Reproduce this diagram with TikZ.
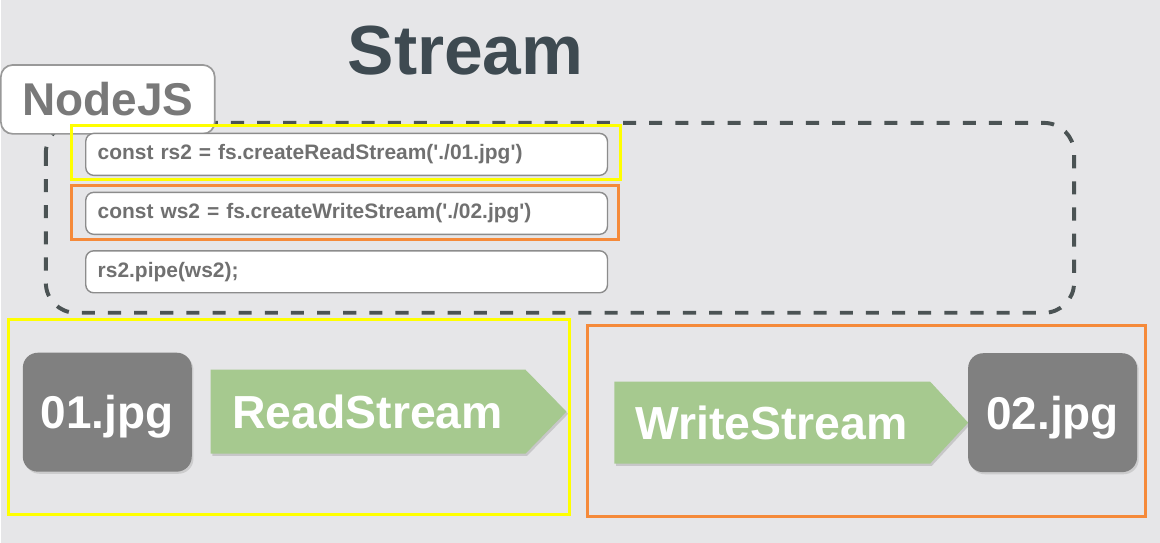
\documentclass[tikz,border=0pt]{standalone}
\usepackage{fontspec}
\setmainfont{Liberation Sans}
\usetikzlibrary{shadows}
\definecolor{bggray}{RGB}{230,230,232}
\definecolor{titlecol}{RGB}{62,74,81}
\definecolor{dashcol}{RGB}{75,83,84}
\definecolor{codetxt}{RGB}{112,112,112}
\definecolor{filegray}{RGB}{128,128,128}
\definecolor{streamgreen}{RGB}{166,201,143}
\definecolor{markyellow}{RGB}{255,255,0}
\definecolor{markorange}{RGB}{245,138,58}

\begin{document}
\begin{tikzpicture}[x=0.025cm,y=-0.025cm,
  codebox/.style={draw=gray!90,fill=white,rounded corners=0.2cm,line width=1pt,
    text width=12.45cm,inner xsep=0.3cm,minimum height=1.05cm,align=left,
    font=\fontsize{14.9}{16}\selectfont\bfseries,text=codetxt},
  filebox/.style={fill=filegray,rounded corners=0.375cm,minimum width=4.225cm,
    minimum height=2.975cm,text=white,font=\fontsize{32.7}{33}\selectfont\bfseries,
    text height=23.4pt,text depth=0pt,
    drop shadow={shadow xshift=1.2pt,shadow yshift=-1.5pt,opacity=0.25}},
  streamtext/.style={text=white,font=\fontsize{33}{34}\selectfont\bfseries,
    text height=23.6pt,text depth=0pt,inner sep=0pt},
  arrowshade/.style={fill=streamgreen,
    drop shadow={shadow xshift=1.2pt,shadow yshift=-1.5pt,opacity=0.3}},
  highlight/.style={line width=2.1pt}]
  % background
  \fill[bggray] (0,0) rectangle (1160,543);
  % title
  \node[anchor=base,text=titlecol,font=\fontsize{49.5}{50}\selectfont\bfseries] (title) at (465,75) {Stream};
  % nodejs process
  \draw[dashcol,line width=2.8pt,dash pattern=on 9.3pt off 9.3pt,rounded corners=0.75cm] (45,123) rectangle (1074,313);
  \node[draw=gray!80,fill=white,rounded corners=0.3cm,line width=1.2pt,minimum width=5.35cm,minimum height=1.725cm,
    text=gray!95!black,font=\fontsize{32.7}{33}\selectfont\bfseries,text height=23.4pt,text depth=0pt] (nodejs) at (107,99.5) {NodeJS};
  \node[codebox] (readline) at (346,154.5) {const rs2 = fs.createReadStream(\textquotesingle./01.jpg\textquotesingle)};
  \node[codebox] (writeline) at (346,213.5) {const ws2 = fs.createWriteStream(\textquotesingle./02.jpg\textquotesingle)};
  \node[codebox] (pipeline) at (346,272) {rs2.pipe(ws2);};
  \draw[highlight,markyellow] (71,126) rectangle (620,180);
  \draw[highlight,markorange] (71,186) rectangle (618,240);
  % read side
  \node[filebox] (srcfile) at (106.5,412.5) {01.jpg};
  \fill[arrowshade] (210,370) -- (525,370) -- (566,412) -- (525,454) -- (210,454) -- cycle;
  \node[streamtext] (readstream) at (367,412) {ReadStream};
  \draw[highlight,markyellow] (8,320) rectangle (569,515);
  % write side
  \fill[arrowshade] (614,382) -- (930,382) -- (968,423) -- (930,464) -- (614,464) -- cycle;
  \node[streamtext] (writestream) at (771,423) {WriteStream};
  \node[filebox] (dstfile) at (1052.5,413) {02.jpg};
  \draw[highlight,markorange] (587,326) rectangle (1145,517);
\end{tikzpicture}
\end{document}
